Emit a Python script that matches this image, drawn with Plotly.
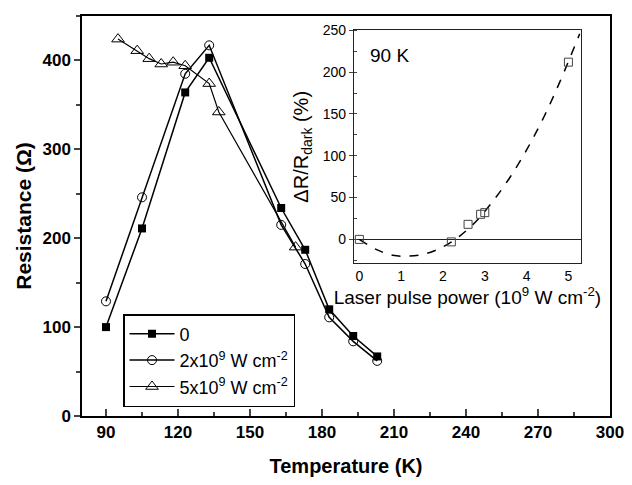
import plotly.graph_objects as go

# Main panel data: resistance vs temperature
temp_dark = [90, 105, 123, 133, 163, 173, 183, 193, 203]
res_dark = [100, 211, 364, 403, 234, 187, 120, 90, 67]
temp_2e9 = [90, 105, 123, 133, 163, 173, 183, 193, 203]
res_2e9 = [129, 246, 385, 417, 215, 171, 111, 84, 62]
temp_5e9 = [95, 103, 108, 113, 118, 123, 133, 137, 169]
res_5e9 = [424, 411, 402, 396, 398, 394, 374, 342, 190]

# Inset data: dR/R_dark vs laser pulse power at 90 K
power = [0, 2.2, 2.6, 2.9, 3.0, 5.0]
dr_pct = [0, -3, 18, 30, 32, 212]
# Dashed fit curve
fit_power = [0, 0.4, 0.8, 1.2, 1.6, 2.0, 2.4, 2.8, 3.2, 3.6, 4.0, 4.4, 4.8, 5.27]
fit_dr = [0, -12, -19, -20, -17, -9, 4, 22, 46, 74, 107, 145, 189, 246]

FONT = "Liberation Sans, Arial, sans-serif"

fig = go.Figure()
fig.add_trace(go.Scatter(x=temp_dark, y=res_dark, mode="lines+markers", name="0",
                         line=dict(color="black", width=1.5),
                         marker=dict(symbol="square", size=8, color="black")))
fig.add_trace(go.Scatter(x=temp_2e9, y=res_2e9, mode="lines+markers",
                         name="2x10<sup>9</sup> W cm<sup>-2</sup>",
                         line=dict(color="black", width=1.5),
                         marker=dict(symbol="circle-open", size=9, color="black", line=dict(width=1))))
fig.add_trace(go.Scatter(x=temp_5e9, y=res_5e9, mode="lines+markers",
                         name="5x10<sup>9</sup> W cm<sup>-2</sup>",
                         line=dict(color="black", width=1.2),
                         marker=dict(symbol="triangle-up-open", size=11, color="black", line=dict(width=1))))

fig.add_trace(go.Scatter(x=fit_power, y=fit_dr, mode="lines", xaxis="x2", yaxis="y2",
                         line=dict(color="black", width=1.5, dash="dash", shape="spline"),
                         showlegend=False))
fig.add_trace(go.Scatter(x=power, y=dr_pct, mode="markers", xaxis="x2", yaxis="y2",
                         marker=dict(symbol="square-open", size=8, color="#444", line=dict(width=1)),
                         showlegend=False))

fig.update_layout(
    width=632, height=485,
    margin=dict(l=82, r=22, t=8, b=69),
    plot_bgcolor="white", paper_bgcolor="white",
    font=dict(family=FONT, color="black"),
    xaxis=dict(range=[80, 300], tick0=90, dtick=30, showline=True, linecolor="black", linewidth=1.5,
               mirror=True, ticks="inside", ticklen=7, tickwidth=1.5, showgrid=False, zeroline=False,
               tickfont=dict(size=17, weight="bold"),
               minor=dict(dtick=15, tick0=90, ticks="inside", ticklen=4, tickwidth=1.5, showgrid=False),
               title=dict(text="Temperature (K)", font=dict(size=20, weight="bold"), standoff=18)),
    yaxis=dict(range=[0, 450], dtick=100, showline=True, linecolor="black", linewidth=1.5,
               mirror=True, ticks="outside", ticklen=6, tickwidth=1.5, showgrid=False, zeroline=False,
               tickfont=dict(size=17, weight="bold"),
               minor=dict(dtick=50, ticks="outside", ticklen=4, tickwidth=1.5, showgrid=False),
               title=dict(text="Resistance (Ω)", font=dict(size=21, weight="bold"), standoff=5)),
    xaxis2=dict(domain=[0.515, 0.945], anchor="y2", range=[-0.13, 5.3], dtick=1, tick0=0,
                showline=True, linecolor="#222", linewidth=1, mirror=True, ticks="",
                showgrid=False, zeroline=False, tickfont=dict(size=14),
                title=dict(text="Laser pulse power (10<sup>9</sup> W cm<sup>-2</sup>)",
                           font=dict(size=19), standoff=4)),
    yaxis2=dict(domain=[0.382, 0.964], anchor="x2", range=[-28.5, 250], dtick=50,
                showline=True, linecolor="#222", linewidth=1, mirror=True, ticks="outside",
                ticklen=4, tickwidth=1, showgrid=False, zeroline=True, zerolinecolor="#222",
                zerolinewidth=1, tickfont=dict(size=14),
                minor=dict(dtick=25, ticks="inside", ticklen=3, tickwidth=1, showgrid=False),
                title=dict(text="ΔR/R<sub>dark</sub> (%)", font=dict(size=20), standoff=8)),
    legend=dict(x=0.0777, y=0.255, xanchor="left", yanchor="top", bgcolor="white",
                bordercolor="black", borderwidth=1.5, font=dict(size=18), itemwidth=45,
                tracegroupgap=0),
    annotations=[dict(x=0.2, y=220, xref="x2", yref="y2", text="90 K", showarrow=False,
                      font=dict(size=19), xanchor="left", yanchor="middle")],
)

fig.write_html("out.html")
